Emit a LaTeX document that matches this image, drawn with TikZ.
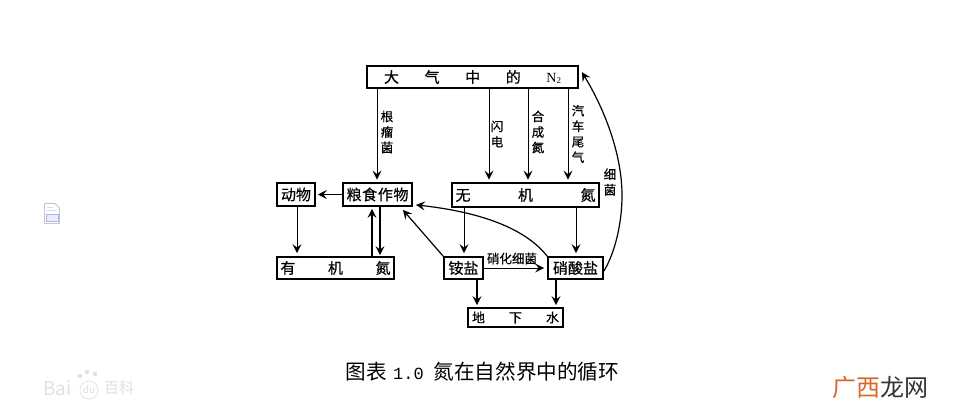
\documentclass[tikz,border=0pt]{standalone}
\usepackage{fontspec}
\setmainfont{Noto Sans CJK SC}
\newfontfamily\boxfont[FakeBold=0.5]{Noto Sans CJK SC}
\newfontfamily\capfont{Liberation Serif}
\newfontfamily\monofont{Liberation Mono}
\usetikzlibrary{arrows.meta}
\definecolor{wmgray}{gray}{0.88}
\definecolor{wmorange}{HTML}{D9662A}
\definecolor{wmdark}{HTML}{333333}
\definecolor{iconblue}{HTML}{A9B4E8}
\newcommand{\spreadtext}[2]{\makebox[#1pt]{#2}}
\newcommand{\gap}{\hfill}
\tikzset{
  box/.style={draw=black,line width=1.8pt,inner sep=0pt,font=\boxfont\fontsize{15}{16}\selectfont,text=black},
  conn/.style={draw=black,line width=1.2pt,-{Stealth[length=9pt,width=9pt,inset=3.5pt]}},
  thin conn/.style={conn,line width=1pt},
  side/.style={inner sep=0pt,align=center,font=\boxfont\fontsize{12.5}{15.5}\selectfont},
  mark text/.style={inner sep=0pt}
}
\begin{document}
\begin{tikzpicture}[x=1pt,y=-1pt]
\useasboundingbox (0,0) rectangle (963,415);
% boxes
\node[box,minimum width=211pt,minimum height=22pt] (air) at (472.5,77) {\spreadtext{177}{大\gap 气\gap 中\gap 的\gap {\capfont\fontsize{14}{14}\selectfont N\raisebox{-1pt}{\fontsize{9}{9}\selectfont 2}}}};
\node[box,minimum width=38pt,minimum height=23pt] (animal) at (296,194.5) {动物};
\node[box,minimum width=69pt,minimum height=23pt] (crop) at (377.5,194.5) {\spreadtext{62}{粮\gap 食\gap 作\gap 物}};
\node[box,minimum width=147pt,minimum height=24pt] (inorg) at (525.5,195) {\spreadtext{140}{无\gap 机\gap 氮}};
\node[box,minimum width=117pt,minimum height=22pt] (org) at (335.5,268) {\spreadtext{110}{有\gap 机\gap 氮}};
\node[box,minimum width=39pt,minimum height=22pt] (ammon) at (463.5,268) {铵盐};
\node[box,minimum width=55pt,minimum height=22pt] (nitrate) at (575.5,268) {硝酸盐};
\node[box,minimum width=95pt,minimum height=19pt,font=\boxfont\fontsize{13}{14}\selectfont] (water) at (515.5,317.5) {\spreadtext{87}{地\gap 下\gap 水}};
% straight connectors
\draw[thin conn] ([xshift=-95.5pt]air.south) -- ([xshift=-0.5pt,yshift=2.5pt]crop.north);
\draw[thin conn] ([xshift=16.5pt]air.south) -- ([xshift=-36.5pt,yshift=2.5pt]inorg.north);
\draw[thin conn] ([xshift=55.5pt]air.south) -- ([xshift=2.5pt,yshift=2.5pt]inorg.north);
\draw[thin conn] ([xshift=95.5pt]air.south) -- ([xshift=42.5pt,yshift=2.5pt]inorg.north);
\draw[conn] (crop.west) -- ([xshift=2pt]animal.east);
\draw[thin conn] ([xshift=1pt]animal.south) -- ([xshift=1pt,yshift=3pt]org.north -| animal.south);
\draw[conn] ([xshift=36.5pt]org.north) -- ([xshift=-5.5pt,yshift=-2pt]crop.south);
\draw[conn] ([xshift=2.5pt]crop.south) -- ([xshift=44.5pt,yshift=1pt]org.north);
\draw[thin conn] ([xshift=-61.5pt]inorg.south) -- ([xshift=0.5pt,yshift=3pt]ammon.north);
\draw[thin conn] ([xshift=50.5pt]inorg.south) -- ([xshift=0.5pt,yshift=3pt]nitrate.north);
\draw[conn] (ammon.north west) -- ([xshift=-10pt,yshift=-3pt]crop.south east);
\draw[thin conn] (ammon.east) -- ([xshift=-3pt]nitrate.west);
\draw[conn] ([xshift=13.5pt]ammon.south) -- ([xshift=13.5pt,yshift=2pt]water.north -| ammon.south);
\draw[conn] ([xshift=-19.5pt]nitrate.south) -- ([xshift=-19.5pt,yshift=2pt]water.north -| nitrate.south);
% curved connectors
\coordinate (bend) at (622,195);
\draw[conn] (nitrate.north west) .. controls (525,228) and (480,212) .. ([xshift=3pt,yshift=2pt]crop.east |- crop.south);
\draw[conn] ([yshift=-3pt]nitrate.east) .. controls (612,258) and (622,230) .. (bend) .. controls (622,155) and (605,110) .. ([xshift=3pt,yshift=-7pt]air.north east);
% labels
\node[side] (lgen) at (387,132) {根\\瘤\\菌};
\node[side] (lflash) at (497,134) {闪\\电};
\node[side] (lsyn) at (538,132) {合\\成\\氮};
\node[side] (lcar) at (578,134) {汽\\车\\尾\\气};
\node[side] (lbac) at (610,182) {细\\菌};
\node[side] (lnit) at (512,258.5) {硝化细菌};
% caption
\node[mark text,font=\fontsize{20.6}{22}\selectfont] (cap) at (482.5,372) {图表\hspace{6pt}{\monofont\fontsize{17}{20}\selectfont 1.0}\hspace{10pt}氮在自然界中的循环};
% watermarks
\node[mark text,font=\fontsize{24}{26}\selectfont,anchor=west] (wm) at (832,387) {\textcolor{wmorange}{广西}\textcolor{wmdark}{龙网}};
\node[mark text,font=\fontsize{19}{20}\selectfont,text=wmgray,anchor=west] (bai) at (43,388) {Bai};
\node[mark text,font=\fontsize{15}{16}\selectfont,text=wmgray,anchor=west] (bk) at (104,388) {百科};
\node[mark text,font=\fontsize{10}{10}\selectfont,text=wmgray] (du) at (89,390) {du};
\draw[wmgray,line width=0.7pt] (89,390) circle (9pt);
\fill[wmgray] (80,376) circle (2.2pt) (87,372) circle (2.2pt) (95,374) circle (2.2pt);
% document icon
\draw[iconblue!60!gray!60,line width=0.8pt,fill=white] (44.5,203.5) -- (55,203.5) -- (59.5,208) -- (59.5,223.5) -- (44.5,223.5) -- cycle;
\draw[iconblue,line width=0.8pt,fill=iconblue!25] (46.5,214) rectangle (58,221);
\draw[iconblue!50,line width=0.6pt] (46.5,207) -- (53,207) (46.5,210) -- (56,210);
\end{tikzpicture}
\end{document}
